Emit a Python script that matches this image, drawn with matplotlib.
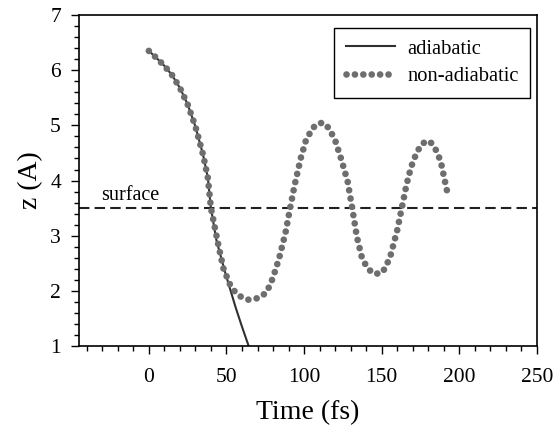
import matplotlib
matplotlib.use('Agg')
import matplotlib.pyplot as plt
from matplotlib.ticker import MultipleLocator

plt.rcParams['font.family'] = ['Liberation Serif', 'DejaVu Serif']

# adiabatic trajectory (solid line)
t_ad = [0, 5, 10, 15, 20, 25, 30, 35, 38, 40, 43.5, 49.3, 55.8, 60, 64.3]
z_ad = [6.35, 6.22, 6.08, 5.91, 5.68, 5.38, 4.98, 4.46, 4.05, 3.50, 2.92, 2.32, 1.71, 1.35, 1.0]

# non-adiabatic trajectory (dotted line)
t_na = [0, 5, 10, 15, 20, 25, 30, 35, 38, 40, 42, 45, 48, 52, 56, 60, 64, 68, 72, 76,
        80, 84, 88, 91, 94, 98, 101, 105, 108, 112, 116, 120, 124, 128, 131, 134, 137,
        140, 144, 149, 152, 155.5, 160, 163, 166, 169, 172, 175, 178.6, 182, 185, 188, 192]
z_na = [6.35, 6.22, 6.08, 5.91, 5.68, 5.38, 4.98, 4.46, 4.05, 3.50, 3.22, 2.80, 2.41, 2.13,
        1.96, 1.88, 1.84, 1.85, 1.89, 1.98, 2.24, 2.60, 3.05, 3.50, 3.93, 4.42, 4.71, 4.93,
        5.02, 5.05, 4.95, 4.73, 4.38, 3.99, 3.50, 2.98, 2.63, 2.45, 2.32, 2.31, 2.40, 2.62,
        3.10, 3.51, 3.93, 4.25, 4.47, 4.63, 4.72, 4.68, 4.55, 4.35, 3.82]

surface_z = 3.5

fig = plt.figure(figsize=(5.57, 4.30), dpi=100)
ax = fig.add_axes([0.1418, 0.1953, 0.8222, 0.7697])

ax.axhline(surface_z, color='#202020', lw=1.5, linestyle=(0, (5, 2.5)))
ax.text(-31, 3.56, 'surface', fontsize=14.5, ha='left', va='bottom')

ax.plot(t_ad, z_ad, color='#303030', lw=1.5, label='adiabatic')
ax.plot(t_na, z_na, color='#6e6e6e', lw=4.8, linestyle=(0, (0.01, 1.25)),
        dash_capstyle='round', label='non-adiabatic')

ax.set_xlim(-45, 250)
ax.set_ylim(1, 7)
ax.xaxis.set_major_locator(MultipleLocator(50))
ax.xaxis.set_minor_locator(MultipleLocator(10))
ax.yaxis.set_major_locator(MultipleLocator(1))
ax.yaxis.set_minor_locator(MultipleLocator(0.2))
ax.tick_params(which='major', direction='out', length=6, width=1, labelsize=15.5)
ax.tick_params(which='minor', direction='out', length=3.5, width=1)
ax.tick_params(axis='x', pad=10)
ax.tick_params(axis='y', pad=7)
for s in ax.spines.values():
    s.set_linewidth(1.2)

ax.set_xlabel('Time (fs)', fontsize=20, labelpad=9)
ax.set_ylabel('z (A)', fontsize=20, labelpad=5)

leg = ax.legend(loc='upper right', bbox_to_anchor=(0.985, 0.961), borderaxespad=0,
                fontsize=14.8, handlelength=2.4, handletextpad=0.6, labelspacing=0.4,
                borderpad=0.55, fancybox=False, edgecolor='black', framealpha=1)
leg.get_frame().set_linewidth(1.0)

fig.savefig('out.png', dpi=100)
